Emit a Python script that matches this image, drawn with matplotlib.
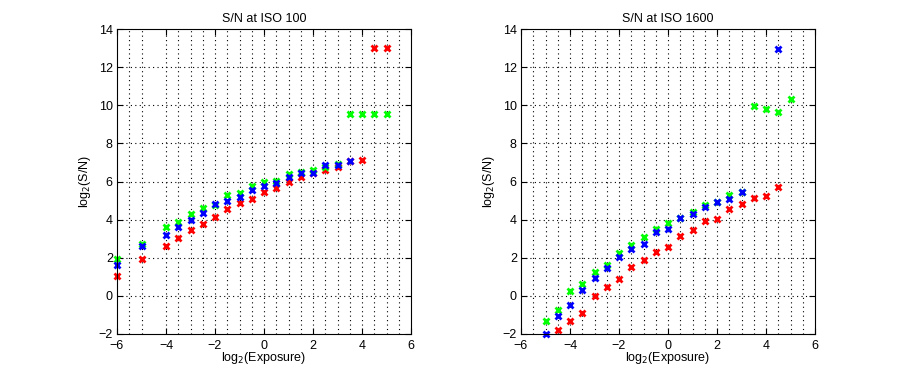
"""
S/N vs exposure at two ISO settings, red/green/blue channels
"""
import matplotlib
matplotlib.use('Agg')
import matplotlib.pyplot as plt

plt.rcParams['font.family'] = ['Liberation Sans', 'DejaVu Sans']
FONTSIZE = 8

# ---- ISO 100 ----
x100_r = [-6, -5, -4, -3.5, -3, -2.5, -2, -1.5, -1, -0.5, 0, 0.5, 1, 1.5, 2, 2.5, 3, 3.5, 4, 4.5, 5]
r100 = [1.05, 1.94, 2.62, 3.06, 3.43, 3.77, 4.12, 4.56, 4.85, 5.08, 5.43, 5.64, 6.0, 6.21, 6.45, 6.6, 6.77, 7.06, 7.15, 12.99, 12.99]
x100_g = [-6, -5, -4, -3.5, -3, -2.5, -2, -1.5, -1, -0.5, 0, 0.5, 1, 1.5, 2, 2.5, 3, 3.5, 4, 4.5, 5]
g100 = [1.93, 2.73, 3.63, 3.9, 4.3, 4.59, 4.75, 5.29, 5.41, 5.78, 5.99, 6.02, 6.39, 6.51, 6.6, 6.77, 6.94, 9.52, 9.52, 9.52, 9.52]
x100_b = [-6, -5, -4, -3.5, -3, -2.5, -2, -1.5, -1, -0.5, 0, 0.5, 1, 1.5, 2, 2.5, 3, 3.5]
b100 = [1.63, 2.62, 3.2, 3.6, 3.98, 4.33, 4.82, 4.98, 5.2, 5.55, 5.78, 5.93, 6.25, 6.42, 6.46, 6.86, 6.86, 7.05]
xgrid100 = [-5.5, -5, -4, -3.5, -3, -2.5, -2, -1.5, -1, -0.5, 0, 0.5, 1, 1.5, 2, 2.5, 3, 3.5, 4, 4.5, 5, 5.5]

# ---- ISO 1600 ----
x1600_r = [-4.5, -4, -3.5, -3, -2.5, -2, -1.5, -1, -0.5, 0, 0.5, 1, 1.5, 2, 2.5, 3, 3.5, 4, 4.5]
r1600 = [-1.77, -1.33, -0.9, 0.01, 0.45, 0.9, 1.49, 1.86, 2.29, 2.59, 3.16, 3.46, 3.95, 4.03, 4.54, 4.8, 5.15, 5.25, 5.72]
x1600_g = [-5, -4.5, -4, -3.5, -3, -2.5, -2, -1.5, -1, -0.5, 0, 0.5, 1, 1.5, 2, 2.5, 3, 3.5, 4, 4.5, 5]
g1600 = [-1.33, -0.76, 0.24, 0.64, 1.25, 1.6, 2.24, 2.68, 3.08, 3.49, 3.81, 4.07, 4.42, 4.77, 4.94, 5.29, 5.45, 9.96, 9.82, 9.64, 10.34]
x1600_b = [-5, -4.5, -4, -3.5, -3, -2.5, -2, -1.5, -1, -0.5, 0, 0.5, 1, 1.5, 2, 2.5, 3, 4.5]
b1600 = [-2.0, -1.07, -0.46, 0.29, 0.93, 1.46, 2.03, 2.47, 2.73, 3.37, 3.51, 4.07, 4.28, 4.64, 4.9, 5.06, 5.43, 12.95]
xgrid1600 = [-5.5, -5, -4.5, -4, -3.5, -3, -2.5, -2, -1.5, -1, -0.5, 0, 0.5, 1, 1.5, 2, 2.5, 3, 3.5, 4, 4.5, 5, 5.5]

panels = [
    ('S/N at ISO 100', x100_r, r100, x100_g, g100, x100_b, b100, xgrid100),
    ('S/N at ISO 1600', x1600_r, r1600, x1600_g, g1600, x1600_b, b1600, xgrid1600),
]

fig = plt.figure(figsize=(9, 3.75), dpi=100)
lefts = [117 / 900., 521 / 900.]
bottom = 1 - 334 / 375.
height = (334 - 29) / 375.
width = 294 / 900.

for left, (title, xr, r, xg, g, xb, b, xgrid) in zip(lefts, panels):
    ax = fig.add_axes([left, bottom, width, height])
    for xv in xgrid:
        ax.axvline(xv, color='k', ls=(0, (1, 3)), lw=0.8, zorder=0)
    for yv in range(0, 14, 2):
        ax.axhline(yv, color='k', ls=(0, (1, 3)), lw=0.8, zorder=0)
    ax.plot(xr, r, 'x', color='#ff0000', ms=5, mew=2, clip_on=False)
    ax.plot(xg, g, 'x', color='#00ff00', ms=5, mew=2, clip_on=False)
    ax.plot(xb, b, 'x', color='#0000ff', ms=5, mew=2, clip_on=False)
    ax.set_xlim(-6, 6)
    ax.set_ylim(-2, 14)
    ax.set_xticks(range(-6, 7, 2))
    ax.set_yticks(range(-2, 15, 2))
    ax.tick_params(direction='in', length=4, labelsize=FONTSIZE + 1, top=True, right=True,
                   labeltop=False, labelright=False)
    ax.tick_params(axis='x', pad=4)
    ax.tick_params(axis='y', pad=3)
    for s in ax.spines.values():
        s.set_linewidth(0.8)
    ax.set_title(title, fontsize=FONTSIZE + 1, pad=5)
    ax.set_xlabel('log$_2$(Exposure)', fontsize=FONTSIZE + 1, labelpad=-1)
    ax.set_ylabel('log$_2$(S/N)', fontsize=FONTSIZE + 1, labelpad=4)

fig.savefig('out.png', dpi=100)
